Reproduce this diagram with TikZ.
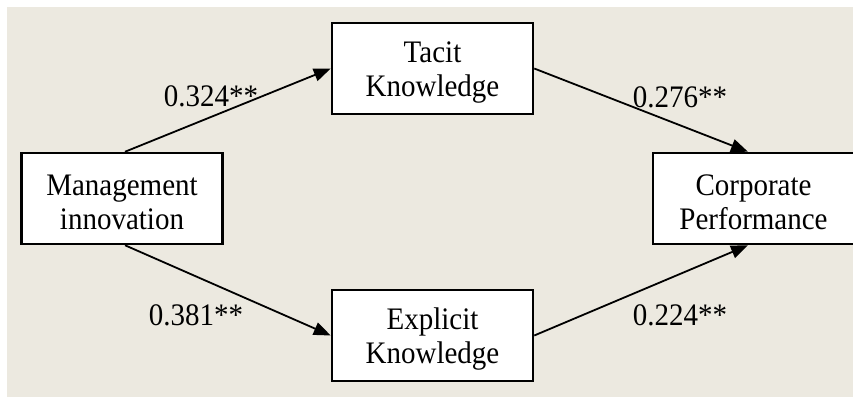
\documentclass[tikz,border=0pt]{standalone}
\usepackage{fontspec}
\setmainfont{Liberation Serif}
\usetikzlibrary{arrows.meta}
\definecolor{bgbeige}{RGB}{236,233,224}
\newcommand{\vstr}[1]{\scalebox{1}[1.08]{#1}}
\begin{document}
\begin{tikzpicture}[x=1pt,y=-1pt,
  box/.style={draw=black,line width=2.5pt,fill=white,minimum width=201pt,minimum height=91pt,inner sep=0pt},
  txt/.style={align=center,inner sep=0pt,font=\fontsize{29}{34}\selectfont},
  lbl/.style={font=\fontsize{29}{34}\selectfont,inner sep=0pt},
  conn/.style={line width=1.8pt,-{Triangle[length=17pt,width=13pt]}}]
\useasboundingbox (0,0) rectangle (853,397);
\fill[bgbeige] (7,7) rectangle (853,397);
\node[box] (m) at (122,198.5) {};
\node[box] (t) at (432.5,68.5) {};
\node[box] (e) at (432.5,335.5) {};
\node[box,minimum width=204pt] (c) at (755,198.5) {};
\node[txt] (mt) at ([yshift=-3.7pt]m.center) {\vstr{Management}\\\vstr{innovation}};
\node[txt] (tt) at ([yshift=-3.7pt]t.center) {\vstr{Tacit}\\\vstr{Knowledge}};
\node[txt] (et) at ([yshift=-3.7pt]e.center) {\vstr{Explicit}\\\vstr{Knowledge}};
\node[txt] (ct) at ([xshift=-1.5pt,yshift=-3.7pt]c.center) {\vstr{Corporate}\\\vstr{Performance}};
\draw[conn] ([xshift=3pt]m.north) -- (t.west);
\draw[conn] ([xshift=3pt]m.south) -- (e.west);
\draw[conn] (t.east) -- ([xshift=-7pt]c.north);
\draw[conn] (e.east) -- ([xshift=-7pt]c.south);
\node[lbl] (l1) at (211,96) {\vstr{0.324**}};
\node[lbl] (l2) at (680,97) {\vstr{0.276**}};
\node[lbl] (l3) at (196,315) {\vstr{0.381**}};
\node[lbl] (l4) at (680,315) {\vstr{0.224**}};
\end{tikzpicture}
\end{document}
